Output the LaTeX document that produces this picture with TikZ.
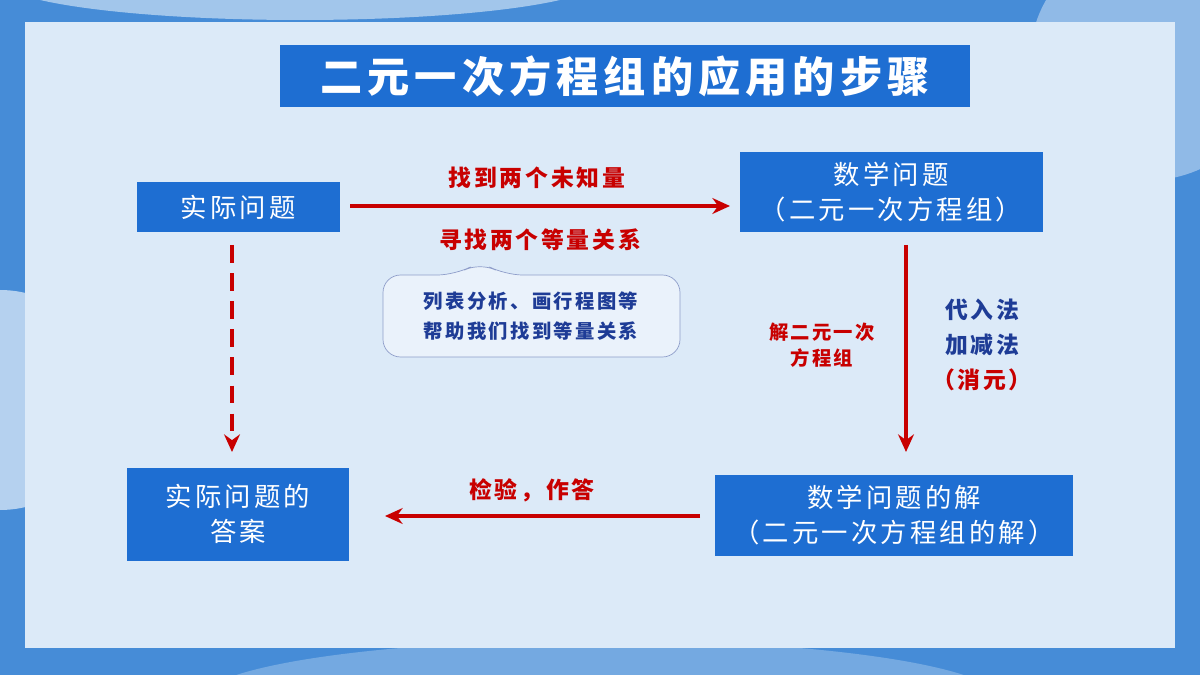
\documentclass[tikz,border=0pt]{standalone}
\usepackage{fontspec}
\newfontfamily\cjk[LetterSpace=12]{Noto Sans CJK SC}
\usetikzlibrary{arrows.meta}
\definecolor{boxblue}{RGB}{30,110,210}
\definecolor{panel}{RGB}{220,234,248}
\definecolor{edge}{RGB}{70,140,215}
\definecolor{darkred}{RGB}{200,0,0}
\definecolor{inkblue}{RGB}{30,60,150}
\tikzset{
  bluebox/.style={fill=boxblue,text=white,font=\cjk\fontsize{15}{20}\selectfont,align=center,inner sep=0pt},
  redarrow/.style={darkred,line width=1.8pt,-{Stealth[length=10pt,width=9pt]}},
  redtext/.style={text=darkred,font=\cjk\bfseries\fontsize{13}{17}\selectfont,align=center},
  bluetext/.style={text=inkblue,font=\cjk\bfseries\fontsize{13}{20}\selectfont,align=center}
}
\begin{document}
\begin{tikzpicture}[x=0.02cm,y=-0.02cm]
% Background
\fill[edge] (0,0) rectangle (1200,675);
\begin{scope}
\clip (0,0) rectangle (1200,675);
\fill[edge!60!white] (1150,60) circle (120);
\fill[edge!40!white] (0,400) circle (110);
\fill[edge!75!white] (600,700) ellipse (400 and 60);
\fill[edge!50!white] (300,-20) ellipse (300 and 40);
\end{scope}
\useasboundingbox (0,0) rectangle (1200,675);
\fill[panel] (25,22) rectangle (1175,648);

% Title
\node[bluebox,font=\cjk\bfseries\fontsize{24}{28}\selectfont,minimum width=690*0.02cm,minimum height=62*0.02cm] (title) at (625,76) {二元一次方程组的应用的步骤};

% Boxes
\node[bluebox,minimum width=203*0.02cm,minimum height=50*0.02cm] (real) at (238,207) {实际问题};
\node[bluebox,minimum width=303*0.02cm,minimum height=80*0.02cm] (math) at (891,192) {数学问题\\（二元一次方程组）};
\node[bluebox,minimum width=222*0.02cm,minimum height=93*0.02cm] (answer) at (238,514) {实际问题的\\答案};
\node[bluebox,minimum width=358*0.02cm,minimum height=81*0.02cm] (sol) at (894,515) {数学问题的解\\（二元一次方程组的解）};

% Connectors
\coordinate (r1) at (350,206);
\coordinate (r2) at (730,206);
\draw[redarrow] (r1) -- (r2);
\coordinate (d1) at (906,245);
\coordinate (d2) at (906,452);
\draw[redarrow] (d1) -- (d2);
\coordinate (l1) at (700,516);
\coordinate (l2) at (385,516);
\draw[redarrow] (l1) -- (l2);
\coordinate (v1) at (232,245);
\coordinate (v2) at (232,452);
\draw[redarrow,dash pattern=on 10pt off 6pt] (v1) -- (v2);

% Labels
\node[redtext] (find) at (537,178) {找到两个未知量};
\node[redtext] (rel) at (540,240) {寻找两个等量关系};
\node[redtext,font=\cjk\bfseries\fontsize{11}{15}\selectfont] (solve) at (822,345) {解二元一次\\方程组};
\node[bluetext] (method) at (982,345) {代入法\\加减法\\\textcolor{darkred}{（消元）}};
\node[redtext] (check) at (532,490) {检验，作答};

% Callout
\draw[inkblue!50,fill=panel!60!white,rounded corners=10pt]
  (383,275) -- (455,275) -- (480,262) -- (505,275) -- (680,275) -- (680,357) -- (383,357) -- cycle;
\node[bluetext,font=\cjk\bfseries\fontsize{11}{17}\selectfont] (hint) at (531,316) {列表分析、画行程图等\\帮助我们找到等量关系};
\end{tikzpicture}
\end{document}
